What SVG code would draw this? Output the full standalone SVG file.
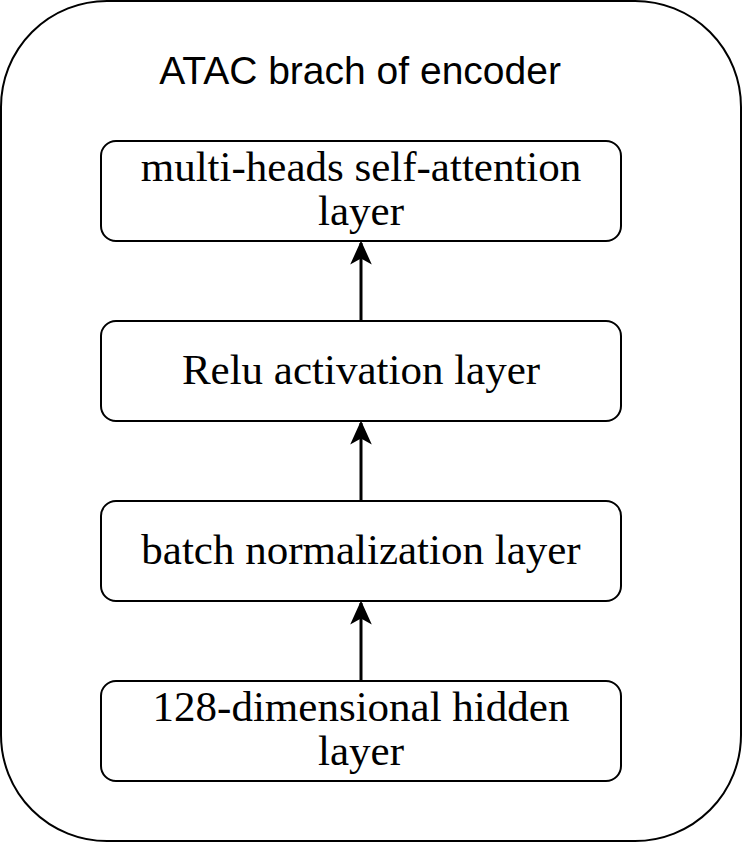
<svg xmlns="http://www.w3.org/2000/svg" width="742" height="842" viewBox="0 0 742 842">
<style>
.box{fill:#fff;stroke:#000;stroke-width:2}
.t{font-family:"Liberation Serif","Times New Roman",serif;font-size:43px;fill:#000;text-anchor:middle}
.title{font-family:"Liberation Sans",Arial,sans-serif;font-size:39px;fill:#000;text-anchor:middle}
.c{stroke:#000;stroke-width:3;fill:none}
</style>
<defs>
<marker id="ah" viewBox="0 0 10 10" refX="9" refY="5" markerWidth="8" markerHeight="8" markerUnits="strokeWidth" orient="auto">
<path d="M0,0.5 L10,5 L0,9.5 L2.5,5 Z" fill="#000"/>
</marker>
</defs>
<rect width="742" height="842" fill="#fff"/>
<g id="container">
<rect x="1" y="1" width="740" height="840" rx="106" ry="106" class="box"/>
<text x="360" y="84" class="title">ATAC brach of encoder</text>
</g>
<g id="connectors">
<line x1="361" y1="681" x2="361" y2="603" class="c" marker-end="url(#ah)"/>
<line x1="361" y1="501" x2="361" y2="423" class="c" marker-end="url(#ah)"/>
<line x1="361" y1="321" x2="361" y2="243" class="c" marker-end="url(#ah)"/>
</g>
<g id="n1">
<rect x="101" y="141" width="520" height="100" rx="15" ry="15" class="box"/>
<text x="361" y="181" class="t">multi-heads self-attention</text>
<text x="361" y="225" class="t">layer</text>
</g>
<g id="n2">
<rect x="101" y="321" width="520" height="100" rx="15" ry="15" class="box"/>
<text x="361" y="384" class="t">Relu activation layer</text>
</g>
<g id="n3">
<rect x="101" y="501" width="520" height="100" rx="15" ry="15" class="box"/>
<text x="361" y="564" class="t">batch normalization layer</text>
</g>
<g id="n4">
<rect x="101" y="681" width="520" height="100" rx="15" ry="15" class="box"/>
<text x="361" y="721" class="t">128-dimensional hidden</text>
<text x="361" y="765" class="t">layer</text>
</g>
</svg>
